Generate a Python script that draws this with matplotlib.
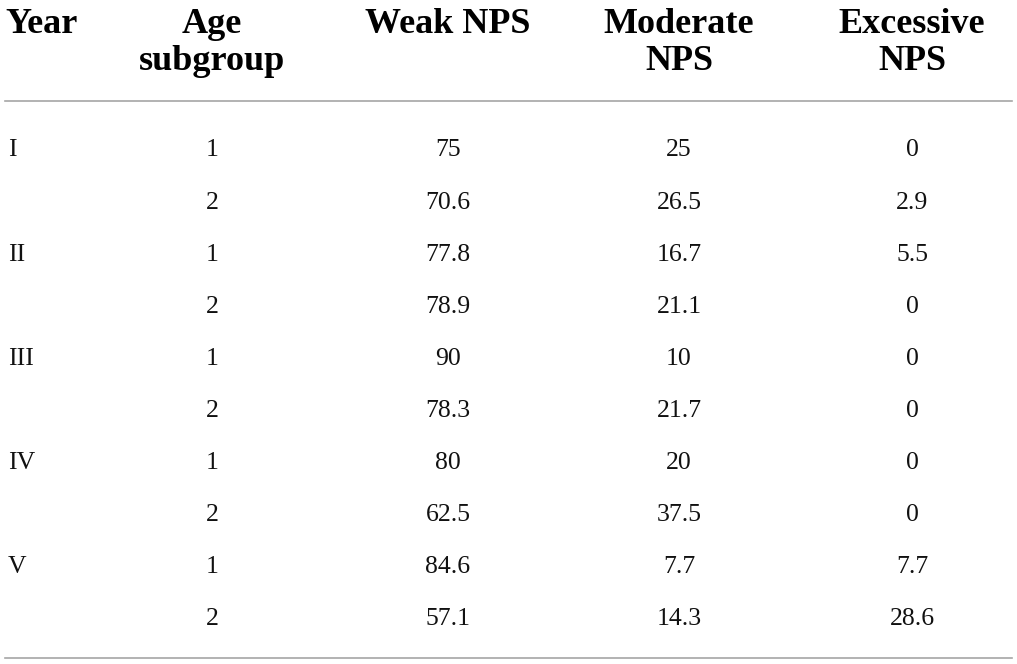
import matplotlib.pyplot as plt

years = ['I', '', 'II', '', 'III', '', 'IV', '', 'V', '']
age_subgroup = ['1', '2', '1', '2', '1', '2', '1', '2', '1', '2']
weak_nps = ['75', '70.6', '77.8', '78.9', '90', '78.3', '80', '62.5', '84.6', '57.1']
moderate_nps = ['25', '26.5', '16.7', '21.1', '10', '21.7', '20', '37.5', '7.7', '14.3']
excessive_nps = ['0', '2.9', '5.5', '0', '0', '0', '0', '0', '7.7', '28.6']
headers = ['Year', 'Age\nsubgroup', 'Weak NPS', 'Moderate\nNPS', 'Excessive\nNPS']

W, H = 1017, 664
fig = plt.figure(figsize=(W / 100, H / 100), dpi=100)
ax = fig.add_axes([0, 0, 1, 1])
ax.set_xlim(0, W)
ax.set_ylim(H, 0)
ax.axis('off')

ink = '#111111'
serif = ['Liberation Serif', 'DejaVu Serif']
col_x = [5, 212, 448, 679, 912]

# header: each line drawn on its own baseline (33px, then 37px lower)
for i, h in enumerate(headers):
    for k, line in enumerate(h.split('\n')):
        ax.text(col_x[i], 33 + 37 * k, line, ha='left' if i == 0 else 'center',
                va='baseline', fontsize=26, fontweight='bold', family=serif,
                color='black')

ax.plot([5, 1012], [101, 101], color='#a6a6a6', lw=1.2)
ax.plot([5, 1012], [658, 658], color='#a6a6a6', lw=1.2)

cols = [years, age_subgroup, weak_nps, moderate_nps, excessive_nps]
row_y0, row_dy = 148, 52.1
for r in range(len(age_subgroup)):
    y = row_y0 + r * row_dy
    for i, col in enumerate(cols):
        ax.text(col_x[i] + (3 if i == 0 else 0), y, col[r],
                ha='left' if i == 0 else 'center', va='center_baseline',
                fontsize=18.5, family=serif, color=ink)

fig.savefig('out.png', dpi=100)
